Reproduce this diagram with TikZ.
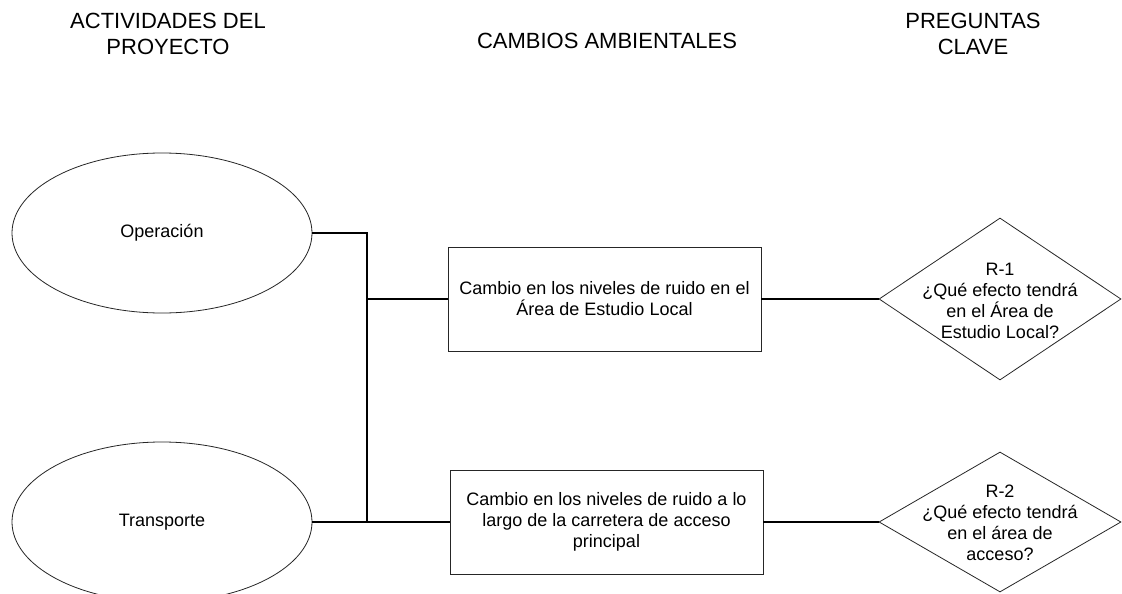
\documentclass[tikz,border=0pt]{standalone}
\usepackage{fontspec}
\setmainfont{Liberation Sans}
\usetikzlibrary{shapes.geometric}
\begin{document}
\begin{tikzpicture}[x=1pt,y=-1pt,
  heading/.style={font=\fontsize{22}{26}\selectfont, align=center, inner sep=0pt},
  body/.style={font=\fontsize{18}{21}\selectfont, align=center},
  activity/.style={draw=black!85, line width=0.8pt, ellipse, minimum width=300pt, minimum height=160pt, inner sep=0pt, body},
  change/.style={draw=black!85, line width=0.8pt, rectangle, minimum width=313pt, minimum height=104pt, inner sep=0pt, body},
  question/.style={draw=black!85, line width=0.8pt, diamond, minimum width=242pt, inner sep=0pt},
  qtext/.style={body, inner sep=0pt},
  link/.style={draw=black, line width=1.3pt}
]
\clip (0,0) rectangle (1122,594);
\fill[white] (0,0) rectangle (1122,594);

% headings
\node[heading] (h1) at (168,33.5) {ACTIVIDADES DEL\\PROYECTO};
\node[heading] (h2) at (607,41) {CAMBIOS AMBIENTALES};
\node[heading] (h3) at (973,33.5) {PREGUNTAS\\CLAVE};

% activities
\node[activity] (e1) at (162,233) {Operación};
\node[activity] (e2) at (162,522) {Transporte};

% changes
\node[change] (b1) at (604.5,299) {Cambio en los niveles de ruido en el\\Área de Estudio Local};
\node[change] (b2) at (606.5,522) {Cambio en los niveles de ruido a lo\\largo de la carretera de acceso\\principal};

% questions
\node[question, minimum height=162pt] (q1) at (1000,299) {};
\node[qtext] (t1) at (1000,301) {R-1\\¿Qué efecto tendrá\\en el Área de\\Estudio Local?};
\node[question, minimum height=140pt] (q2) at (1000,522) {};
\node[qtext] (t2) at (1000,523) {R-2\\¿Qué efecto tendrá\\en el área de\\acceso?};

% junctions
\coordinate (jt) at (367,233);
\coordinate (jm) at (367,299);
\coordinate (jb) at (367,522);

% connectors
\draw[link] (e1.east) -- (jt) -- (jb);
\draw[link] (jm) -- (b1.west);
\draw[link] (e2.east) -- (b2.west);
\draw[link] (b1.east) -- (q1.west);
\draw[link] (b2.east) -- (q2.west);
\end{tikzpicture}
\end{document}
